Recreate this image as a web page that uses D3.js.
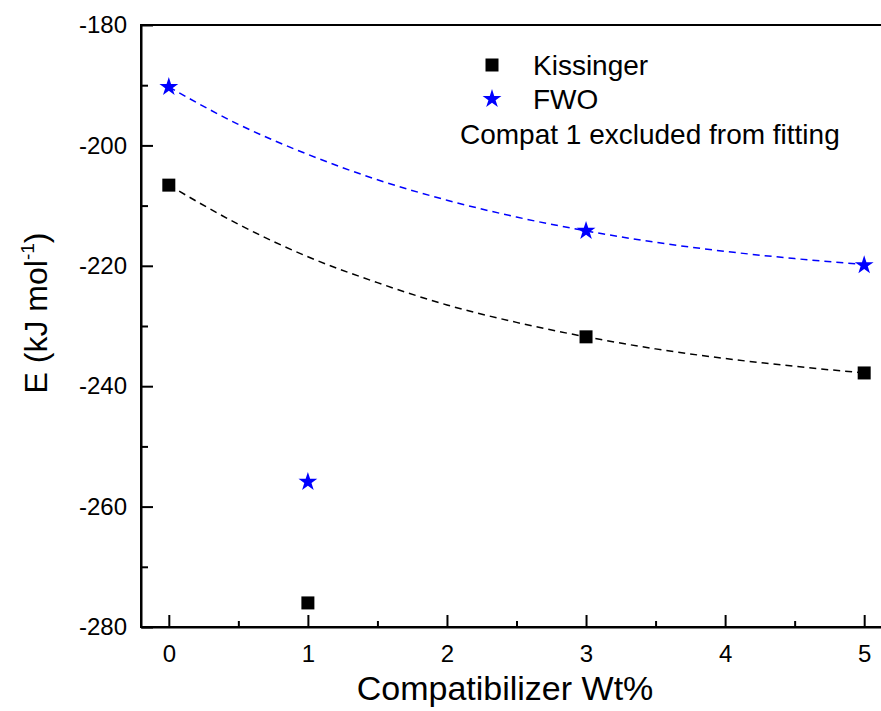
<!DOCTYPE html>
<html>
<head>
<meta charset="utf-8">
<script src="https://cdn.jsdelivr.net/npm/d3@7"></script>
<style>
  body { margin: 0; background: #fff; }
  text { font-family: "Liberation Sans", Arial, sans-serif; fill: #000; }
</style>
</head>
<body>
<div id="chart"></div>
<script>
// measured points
const wtPct = [0, 1, 3, 5];
const kissinger = [-206.6, -276.0, -231.8, -237.8];
const fwo = [-190.3, -255.9, -214.2, -219.9];

// fitted curves (points 0, 3, 5)
const fitX = [0, 0.5, 1, 1.5, 2, 2.5, 3, 3.5, 4, 4.5, 5];
const kissingerFit = [-206.6, -213.1, -218.5, -222.8, -226.5, -229.4, -231.8, -233.8, -235.4, -236.7, -237.8];
const fwoFit = [-190.3, -196.5, -201.5, -205.7, -209.1, -211.9, -214.2, -216.1, -217.6, -218.8, -219.8];

const xTicks = [0, 1, 2, 3, 4, 5];
const xMinor = [0.5, 1.5, 2.5, 3.5, 4.5];
const yTicks = [-280, -260, -240, -220, -200, -180];
const yMinor = [-270, -250, -230, -210, -190];

const W = 881, H = 711;
const svg = d3.select("#chart").append("svg")
    .attr("width", W)
    .attr("height", H);

const x = d3.scaleLinear().domain([-0.2, 5.2]).range([141, 892]);
const y = d3.scaleLinear().domain([-280, -180]).range([627, 25]);

// plain hyphen for negatives, like the original
const fmt = d => String(d);

// frame
svg.append("rect")
    .attr("x", x(-0.2)).attr("y", y(-180))
    .attr("width", x(5.2) - x(-0.2)).attr("height", y(-280) - y(-180))
    .attr("fill", "none").attr("stroke", "#000").attr("stroke-width", 2);

// axes with inward ticks
const xAxis = svg.append("g")
    .attr("transform", `translate(0,${y(-280)})`)
    .call(d3.axisBottom(x).tickValues(xTicks).tickFormat(fmt).tickSizeInner(-12).tickSizeOuter(0).tickPadding(18));
xAxis.select(".domain").attr("stroke-width", 2);
xAxis.selectAll(".tick line").attr("stroke-width", 2);
xAxis.selectAll(".tick text").attr("font-size", 24).attr("font-family", "Liberation Sans, Arial, sans-serif");

svg.append("g")
    .attr("transform", `translate(0,${y(-280)})`)
    .call(d3.axisBottom(x).tickValues(xMinor).tickSize(-6).tickFormat(""))
    .call(g => g.select(".domain").remove())
    .selectAll("line").attr("stroke-width", 2);

const yAxis = svg.append("g")
    .attr("transform", `translate(${x(-0.2)},0)`)
    .call(d3.axisLeft(y).tickValues(yTicks).tickFormat(fmt).tickSizeInner(-12).tickSizeOuter(0).tickPadding(14));
yAxis.select(".domain").attr("stroke-width", 2);
yAxis.selectAll(".tick line").attr("stroke-width", 2);
yAxis.selectAll(".tick text").attr("font-size", 24).attr("font-family", "Liberation Sans, Arial, sans-serif");

svg.append("g")
    .attr("transform", `translate(${x(-0.2)},0)`)
    .call(d3.axisLeft(y).tickValues(yMinor).tickSize(-7).tickFormat(""))
    .call(g => g.select(".domain").remove())
    .selectAll("line").attr("stroke-width", 2);

// axis titles
svg.append("text")
    .attr("x", 505).attr("y", 700)
    .attr("text-anchor", "middle")
    .attr("font-size", 34)
    .text("Compatibilizer Wt%");

const yTitle = svg.append("text")
    .attr("transform", `translate(47,313) rotate(-90)`)
    .attr("text-anchor", "middle")
    .attr("font-size", 32);
yTitle.append("tspan").text("E (kJ mol");
yTitle.append("tspan").attr("font-size", 19).attr("dy", -13).text("-1");
yTitle.append("tspan").attr("dy", 13).text(")");

// fit lines
const line = d3.line()
    .x((d, i) => x(fitX[i]))
    .y(d => y(d))
    .curve(d3.curveMonotoneX);

svg.append("path")
    .datum(kissingerFit)
    .attr("d", line)
    .attr("fill", "none").attr("stroke", "#000")
    .attr("stroke-width", 1.5).attr("stroke-dasharray", "7,5");

svg.append("path")
    .datum(fwoFit)
    .attr("d", line)
    .attr("fill", "none").attr("stroke", "#0000ff")
    .attr("stroke-width", 1.5).attr("stroke-dasharray", "7,5");

// markers
const square = d3.symbol().type(d3.symbolSquare).size(169);
const star = d3.symbol().type(d3.symbolStar).size(110);

svg.selectAll(".kis")
    .data(kissinger)
    .enter().append("path")
    .attr("class", "kis")
    .attr("d", square)
    .attr("transform", (d, i) => `translate(${x(wtPct[i])},${y(d)})`)
    .attr("fill", "#000");

svg.selectAll(".fwo")
    .data(fwo)
    .enter().append("path")
    .attr("class", "fwo")
    .attr("d", star)
    .attr("transform", (d, i) => `translate(${x(wtPct[i])},${y(d)})`)
    .attr("fill", "#0000ff");

// legend
svg.append("path").attr("d", square).attr("transform", "translate(492,65)").attr("fill", "#000");
svg.append("path").attr("d", star).attr("transform", "translate(492,99)").attr("fill", "#0000ff");
svg.append("text").attr("x", 533).attr("y", 75).attr("font-size", 28).text("Kissinger");
svg.append("text").attr("x", 533).attr("y", 109).attr("font-size", 28).text("FWO");
svg.append("text").attr("x", 460).attr("y", 144).attr("font-size", 28).text("Compat 1 excluded from fitting");
</script>
</body>
</html>
